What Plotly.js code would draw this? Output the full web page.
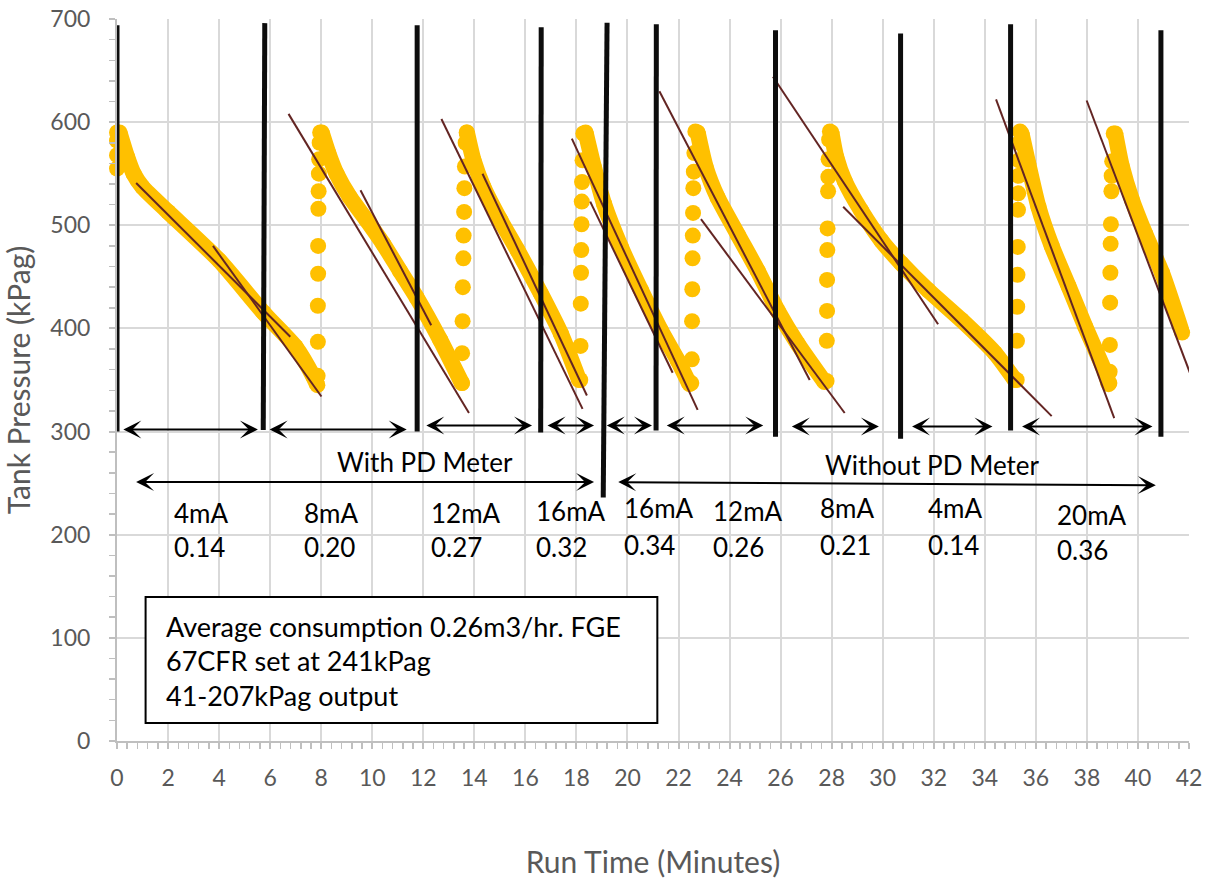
<!DOCTYPE html>
<html>
<head>
<meta charset="utf-8">
<script src="https://cdn.plot.ly/plotly-3.0.1.min.js"></script>
<style>
  html, body { margin: 0; padding: 0; background: #ffffff; }
  #chart { width: 1207px; height: 880px; }
</style>
</head>
<body>
<div id="chart"></div>
<script>
// Tank pressure while the tank drains, one array per run: [minutes, kPag]
const drain1 = [[0.1,590],[0.4,566],[0.65,550],[1.0,537],[2.0,513],[4.0,466],[5.75,415],[7.0,382],[7.7,353],[7.85,345]];
const drain2 = [[8.02,590],[8.28,570],[8.6,550],[9.13,527],[9.78,505],[10.43,482],[11.08,456],[11.74,430],[12.66,389],[13.51,347]];
const drain3 = [[13.71,590],[13.97,563],[14.36,537],[15.02,505],[15.69,476],[16.6,434],[17.39,395],[18.1,350]];
const drain4 = [[18.36,590],[18.69,556],[19.08,521],[19.74,479],[20.53,437],[21.31,398],[21.97,369],[22.43,346]];
const drain5 = [[22.75,590],[23.07,556],[23.53,527],[24.32,491],[25.1,456],[25.89,417],[26.67,385],[27.72,348]];
const drain6 = [[27.99,590],[28.18,566],[28.51,543],[29.16,514],[29.95,485],[30.73,463],[31.78,437],[33.09,408],[34.4,376],[35.18,350]];
const drain7 = [[35.44,589],[35.7,560],[36.1,518],[36.62,480],[37.28,441],[37.93,402],[38.72,357],[38.85,346]];
const drain8 = [[39.11,589],[39.37,557],[39.76,525],[40.28,492],[40.94,454],[41.73,396]];

// Refill readings between runs: [minutes, kPag]
const refill0 = [[0,555],[0,568],[0,582],[0,590]];
const refill1 = [[7.86,354],[7.87,387],[7.87,422],[7.88,453],[7.88,480],[7.89,516],[7.9,533],[7.91,550],[7.92,564],[7.94,580],[7.96,590]];
const refill2 = [[13.52,347],[13.52,376],[13.54,407],[13.55,440],[13.57,468],[13.58,490],[13.6,513],[13.61,536],[13.63,557],[13.66,580],[13.7,590]];
const refill3 = [[18.15,350],[18.16,383],[18.17,424],[18.18,454],[18.19,476],[18.2,501],[18.21,523],[18.22,542],[18.24,563],[18.27,589]];
const refill4 = [[22.5,347],[22.52,370],[22.53,407],[22.54,438],[22.55,468],[22.56,490],[22.57,512],[22.58,536],[22.6,552],[22.62,570],[22.66,591]];
const refill5 = [[27.8,349],[27.81,388],[27.82,417],[27.82,447],[27.83,476],[27.84,497],[27.86,533],[27.87,547],[27.88,564],[27.9,583],[27.93,591]];
const refill6 = [[35.25,350],[35.26,388],[35.27,421],[35.28,452],[35.29,479],[35.3,515],[35.31,531],[35.32,548],[35.33,563],[35.35,580],[35.38,591]];
const refill7 = [[38.88,347],[38.89,358],[38.9,384],[38.91,425],[38.92,454],[38.93,482],[38.94,501],[38.96,533],[38.97,548],[38.99,562],[39.05,589]];

// Linear fits over the draining runs: [t0, p0, t1, p1]
const fitLines = [
  [0.75,541, 6.79,392], [3.76,480, 8.01,334],
  [6.72,608, 13.79,318], [9.54,534, 12.31,403],
  [12.71,603, 18.24,322], [14.32,550, 18.41,335],
  [17.82,584, 22.75,321], [18.54,523, 21.77,357],
  [21.25,630, 27.14,350], [22.88,506, 28.51,318],
  [25.7,644, 32.17,404], [28.45,518, 36.62,315],
  [34.44,622, 39.07,313],
  [37.99,621, 42.05,356]
];

// Run boundary markers: [t top, p top, t bottom, p bottom]
const runBoundaries = [
  [0.0,694, 0.0,300], [5.79,696, 5.73,301.5], [11.76,694, 11.76,300],
  [16.62,692, 16.6,299], [19.2,696.4, 19.05,236], [21.13,695, 21.12,301],
  [25.8,689, 25.8,295], [30.7,686, 30.7,293], [35.01,695, 35.01,301],
  [40.9,689, 40.9,295]
];

// Span arrows: one per run, then one per meter configuration: [t0, p0, t1, p1]
const runSpans = [
  [0.19,302, 5.52,302], [5.92,302, 11.35,302], [12.06,306, 16.26,306],
  [16.81,306, 18.69,306], [19.13,306, 20.96,306], [21.48,306, 25.32,306],
  [26.38,305, 29.85,305], [31.09,305, 34.3,305], [35.4,305, 40.57,305]
];
const groupSpans = [[0.69,251, 18.69,251], [19.58,251, 40.7,248]];
const groupNames = ['With PD Meter', 'Without PD Meter'];

// Signal current for each run and its measured consumption (m3/hr)
const signalLabels = ['4mA','8mA','12mA','16mA','16mA','12mA','8mA','4mA','20mA'];
const flowRates = [0.14, 0.20, 0.27, 0.32, 0.34, 0.26, 0.21, 0.14, 0.36];

const noteLines = ['Average consumption 0.26m3/hr. FGE', '67CFR set at 241kPag', '41-207kPag output'];

// ---- placement of the text blocks (axis units) ----
const labelTime = [2.14, 7.24, 12.22, 16.34, 19.79, 23.28, 27.48, 31.68, 36.74];
const labelTopP = [221, 221, 221, 223, 226, 223, 226, 226, 219];
const labelLowP = [188, 188, 188, 188, 190, 188, 190, 190, 185];
const groupLabelPos = [[12.06, 270.5], [31.95, 267.6]];
const noteBox = [1.12, 17.5, 21.17, 139.6];
const noteTextTime = 1.86;
const noteTextP = [111.5, 77.6, 44.6];

// ---- styling ----
const YELLOW = '#FFC000';
const FIT = '#632523';
const INK = '#0d0d0d';
const GREY_TEXT = '#595959';
const FONT = 'Lato, "Open Sans", sans-serif';

const xs = a => a.map(p => p[0]);
const ys = a => a.map(p => p[1]);

const traces = [];

[refill0, refill1, refill2, refill3, refill4, refill5, refill6, refill7].forEach(r => {
  traces.push({
    type: 'scatter', mode: 'markers', x: xs(r), y: ys(r),
    marker: { size: 16, color: YELLOW, line: { width: 0 } },
    cliponaxis: false, hoverinfo: 'x+y'
  });
});

[drain1, drain2, drain3, drain4, drain5, drain6, drain7, drain8].forEach(d => {
  traces.push({
    type: 'scatter', mode: 'lines+markers', x: xs(d), y: ys(d),
    line: { color: YELLOW, width: 16, shape: 'spline', smoothing: 0.6 },
    marker: { size: 16, color: YELLOW, line: { width: 0 } },
    cliponaxis: false, hoverinfo: 'x+y'
  });
});

// fit lines joined into one trace with gaps
const fitX = [], fitY = [];
fitLines.forEach(f => { fitX.push(f[0], f[2], null); fitY.push(f[1], f[3], null); });
traces.push({
  type: 'scatter', mode: 'lines', x: fitX, y: fitY,
  line: { color: FIT, width: 2 }, connectgaps: false, cliponaxis: false, hoverinfo: 'skip'
});

// run boundaries
const bX = [], bY = [];
runBoundaries.forEach(b => { bX.push(b[0], b[2], null); bY.push(b[1], b[3], null); });
traces.push({
  type: 'scatter', mode: 'lines', x: bX, y: bY,
  line: { color: INK, width: 5 }, connectgaps: false, cliponaxis: false, hoverinfo: 'skip'
});

const annotations = [];

function spanArrow(s) {
  return {
    xref: 'x', yref: 'y', axref: 'x', ayref: 'y',
    x: s[2], y: s[3], ax: s[0], ay: s[1],
    text: '', showarrow: true, arrowside: 'end+start',
    arrowhead: 3, startarrowhead: 3, arrowsize: 1.5, startarrowsize: 1.5,
    arrowwidth: 2, arrowcolor: '#000000', standoff: 0, startstandoff: 0
  };
}
runSpans.forEach(s => annotations.push(spanArrow(s)));
groupSpans.forEach(s => annotations.push(spanArrow(s)));

groupNames.forEach((name, i) => {
  annotations.push({
    xref: 'x', yref: 'y', x: groupLabelPos[i][0], y: groupLabelPos[i][1],
    text: name, showarrow: false, xanchor: 'center', yanchor: 'middle',
    font: { family: FONT, size: 26, color: '#000000' }
  });
});

signalLabels.forEach((lab, i) => {
  annotations.push({
    xref: 'x', yref: 'y', x: labelTime[i], y: labelTopP[i],
    text: lab, showarrow: false, xanchor: 'left', yanchor: 'middle',
    font: { family: FONT, size: 26, color: '#000000' }
  });
  annotations.push({
    xref: 'x', yref: 'y', x: labelTime[i], y: labelLowP[i],
    text: flowRates[i].toFixed(2), showarrow: false, xanchor: 'left', yanchor: 'middle',
    font: { family: FONT, size: 26, color: '#000000' }
  });
});

noteLines.forEach((line, i) => {
  annotations.push({
    xref: 'x', yref: 'y', x: noteTextTime, y: noteTextP[i],
    text: line, showarrow: false, xanchor: 'left', yanchor: 'middle',
    font: { family: FONT, size: 27, color: '#000000' }
  });
});

const shapes = [{
  type: 'rect', xref: 'x', yref: 'y', layer: 'above',
  x0: noteBox[0], y0: noteBox[1], x1: noteBox[2], y1: noteBox[3],
  line: { color: '#000000', width: 2 }, fillcolor: '#ffffff'
}];

const axisCommon = {
  showgrid: true, gridcolor: '#d9d9d9', gridwidth: 2,
  zeroline: false, showline: true, linecolor: '#bfbfbf', linewidth: 2,
  ticks: 'outside', ticklen: 6, tickwidth: 2, tickcolor: '#bfbfbf',
  tickfont: { family: FONT, size: 23, color: GREY_TEXT },
  fixedrange: true
};

const layout = {
  width: 1207, height: 880,
  margin: { l: 117, r: 18, t: 19, b: 139, pad: 0 },
  paper_bgcolor: '#ffffff', plot_bgcolor: '#ffffff',
  font: { family: FONT, color: GREY_TEXT },
  showlegend: false,
  xaxis: Object.assign({}, axisCommon, {
    range: [0, 42], tickmode: 'linear', tick0: 0, dtick: 2,
    ticklabelstandoff: 9,
    minor: { dtick: 0.4, ticks: 'outside', ticklen: 6, tickwidth: 1.5, tickcolor: '#bfbfbf', showgrid: false },
    title: { text: 'Run Time (Minutes)', font: { family: FONT, size: 30, color: GREY_TEXT }, standoff: 62 }
  }),
  yaxis: Object.assign({}, axisCommon, {
    range: [0, 700], tickmode: 'linear', tick0: 0, dtick: 100,
    ticklabelstandoff: 14,
    minor: { dtick: 20, ticks: 'outside', ticklen: 6, tickwidth: 1.5, tickcolor: '#bfbfbf', showgrid: false },
    title: { text: 'Tank Pressure (kPag)', font: { family: FONT, size: 30, color: GREY_TEXT }, standoff: 11 }
  }),
  annotations: annotations,
  shapes: shapes
};

Plotly.newPlot('chart', traces, layout, { displayModeBar: false, staticPlot: true });
</script>
</body>
</html>
